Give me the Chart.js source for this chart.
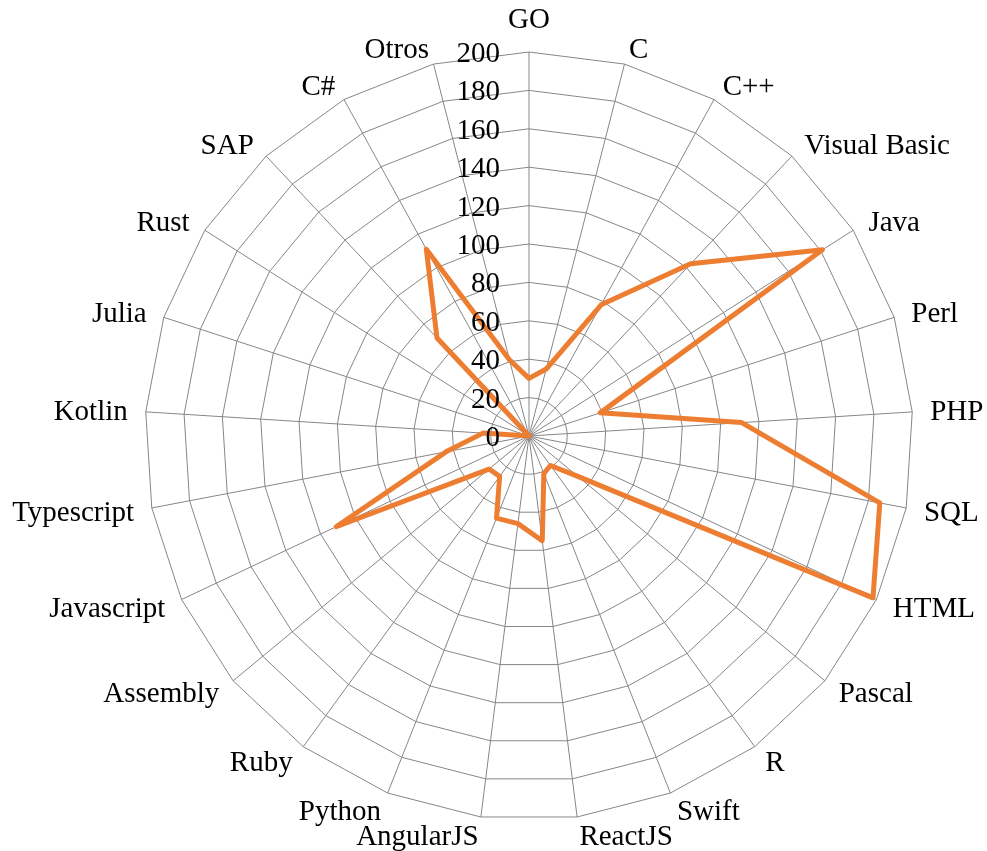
<!DOCTYPE html>
<html>
<head>
<meta charset="utf-8">
<script src="https://cdn.jsdelivr.net/npm/chart.js@4/dist/chart.umd.min.js"></script>
<style>
  html, body { margin: 0; padding: 0; background: #ffffff; }
  #wrap { width: 987px; height: 851px; }
</style>
</head>
<body>
<div id="wrap"><canvas id="c" width="987" height="851"></canvas></div>
<script>
const categories = ["GO", "C", "C++", "Visual Basic", "Java", "Perl", "PHP", "SQL", "HTML", "Pascal",
  "R", "Swift", "ReactJS", "AngularJS", "Python", "Ruby", "Assembly", "Javascript", "Typescript",
  "Kotlin", "Julia", "Rust", "SAP", "C#", "Otros"];
const values = [30, 36, 78, 123, 181, 39, 111, 186, 198, 33,
  19, 21, 55, 46, 46, 26, 27, 111, 44,
  24, 0, 0, 70, 111, 41];
const axisMin = 0;
const axisMax = 200;
const axisStep = 20;

const LABEL_FONT = '29px "Liberation Serif", "Times New Roman", serif';
const TICK_FONT = '29px "Liberation Serif", "Times New Roman", serif';

const labelPlugin = {
  id: 'excelLabels',
  afterDraw(chart) {
    const scale = chart.scales.r;
    const ctx = chart.ctx;
    ctx.save();
    ctx.fillStyle = '#000000';
    ctx.font = LABEL_FONT;
    ctx.textBaseline = 'alphabetic';
    const n = categories.length;
    for (let i = 0; i < n; i++) {
      const a = i * 2 * Math.PI / n;
      const s = Math.sin(a);
      const nc = -Math.cos(a);
      const v = scale.getPointPosition(i, scale.drawingArea);
      if (Math.abs(s) < 0.01) {
        ctx.textAlign = 'center';
        const y = nc < 0 ? v.y - 24 : v.y + 33;
        ctx.fillText(categories[i], v.x, y);
      } else {
        ctx.textAlign = s > 0 ? 'left' : 'right';
        const x = v.x + 18 * s;
        const k = nc < 0 ? 16 : 18.5;
        const cy = v.y + k * nc;
        ctx.fillText(categories[i], x, cy + 9.5);
      }
    }
    ctx.font = TICK_FONT;
    ctx.textAlign = 'right';
    for (const t of scale.ticks) {
      const d = scale.getDistanceFromCenterForValue(t.value);
      ctx.fillText(String(t.value), scale.xCenter - 29, scale.yCenter - d + 10);
    }
    ctx.restore();
  }
};

new Chart(document.getElementById('c'), {
  type: 'radar',
  data: {
    labels: categories,
    datasets: [{
      data: values,
      borderColor: '#ED7D31',
      borderWidth: 5,
      borderJoinStyle: 'round',
      borderCapStyle: 'round',
      fill: false,
      pointRadius: 0,
      pointHoverRadius: 0,
      tension: 0
    }]
  },
  options: {
    responsive: false,
    animation: false,
    events: [],
    plugins: { legend: { display: false }, tooltip: { enabled: false } },
    scales: {
      r: {
        min: axisMin,
        max: axisMax,
        ticks: { stepSize: axisStep, display: false },
        pointLabels: { display: false },
        grid: { color: '#868686', lineWidth: 1 },
        angleLines: { color: '#868686', lineWidth: 1 },
        afterFit(scale) {
          scale.xCenter = 529;
          scale.yCenter = 436;
          scale.drawingArea = 384;
        }
      }
    }
  },
  plugins: [labelPlugin]
});
</script>
</body>
</html>
